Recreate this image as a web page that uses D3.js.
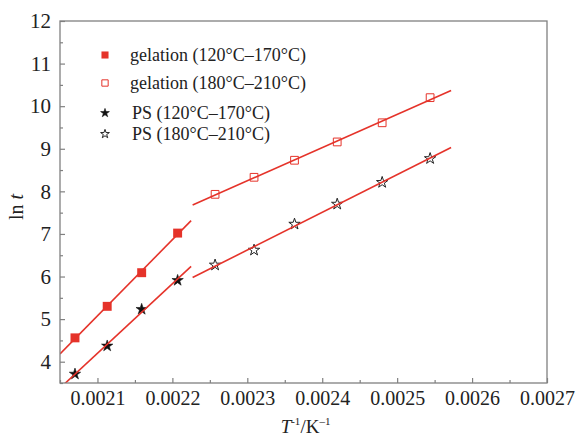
<!DOCTYPE html>
<html>
<head>
<meta charset="utf-8">
<script src="https://cdn.jsdelivr.net/npm/d3@7"></script>
<style>
  body { margin: 0; background: #fff; }
  svg { font-family: "Liberation Serif", "DejaVu Serif", serif; }
</style>
</head>
<body>
<svg id="chart" width="582" height="437"></svg>
<script>
// values
const xLeft = [0.002070, 0.002113, 0.002159, 0.002207];
const xRight = [0.002257, 0.002309, 0.002363, 0.002420, 0.002480, 0.002544];
const gelFilled = [4.56, 5.30, 6.09, 7.02];
const gelOpen = [7.93, 8.33, 8.73, 9.16, 9.61, 10.20];
const psFilled = [3.71, 4.37, 5.23, 5.91];
const psOpen = [6.27, 6.62, 7.23, 7.70, 8.21, 8.77];
// x extent of each fitted line
const fitLeftRange = [0.00205, 0.002225];
const fitRightRange = [0.002227, 0.002572];
const xTicks = [0.0021, 0.0022, 0.0023, 0.0024, 0.0025, 0.0026, 0.0027];
const yTicks = [4, 5, 6, 7, 8, 9, 10, 11, 12];
const legendLabels = ["gelation (120°C–170°C)", "gelation (180°C–210°C)", "PS (120°C–170°C)", "PS (180°C–210°C)"];

const red = "#e5332a";
const axisColor = "#808080";

const svg = d3.select("#chart");
const margin = { left: 60, right: 35, top: 21, bottom: 54 };
const W = 582, H = 437;

const x = d3.scaleLinear().domain([0.00205, 0.0027]).range([margin.left, W - margin.right]);
const y = d3.scaleLinear().domain([3.5, 12]).range([H - margin.bottom, margin.top]);

const series = [
	{ xs: xLeft, ys: gelFilled, kind: "sqFill" },
	{ xs: xRight, ys: gelOpen, kind: "sqOpen" },
	{ xs: xLeft, ys: psFilled, kind: "starFill" },
	{ xs: xRight, ys: psOpen, kind: "starOpen" }
];

function fit(xs, ys) {
	const mx = d3.mean(xs), my = d3.mean(ys);
	let sxy = 0, sxx = 0;
	xs.forEach((v, i) => { sxy += (v - mx) * (ys[i] - my); sxx += (v - mx) * (v - mx); });
	const b = sxy / sxx;
	return v => my + b * (v - mx);
}

function marker(sel, kind, small) {
	const sq = small ? 50 : 80;
	const st = small ? 24 : 40;
	if (kind === "sqFill") {
		sel.attr("d", d3.symbol(d3.symbolSquare, sq)).attr("fill", red).attr("stroke", "none");
	} else if (kind === "sqOpen") {
		sel.attr("d", d3.symbol(d3.symbolSquare, small ? 40 : 60)).attr("fill", "none").attr("stroke", red).attr("stroke-width", 1);
	} else if (kind === "starFill") {
		sel.attr("d", d3.symbol(d3.symbolStar, st)).attr("fill", "#111").attr("stroke", "#111").attr("stroke-width", 0.6);
	} else {
		sel.attr("d", d3.symbol(d3.symbolStar, st)).attr("fill", "#fff").attr("stroke", "#222").attr("stroke-width", 1);
	}
}

// clip for plot
svg.append("clipPath").attr("id", "clip")
	.append("rect")
	.attr("x", margin.left).attr("y", margin.top)
	.attr("width", W - margin.left - margin.right)
	.attr("height", H - margin.top - margin.bottom);

// markers
series.forEach(s => {
	svg.append("g")
		.selectAll("path")
		.data(s.xs.map((v, i) => [v, s.ys[i]]))
		.join("path")
		.attr("transform", d => `translate(${x(d[0])},${y(d[1])})`)
		.call(marker, s.kind, false);
});

// fitted lines
const lineGen = d3.line().x(d => x(d[0])).y(d => y(d[1]));
series.forEach(s => {
	const f = fit(s.xs, s.ys);
	const r = s.xs === xLeft ? fitLeftRange : fitRightRange;
	svg.append("path")
		.attr("clip-path", "url(#clip)")
		.attr("d", lineGen(r.map(v => [v, f(v)])))
		.attr("fill", "none")
		.attr("stroke", red)
		.attr("stroke-width", 1.6);
});

// frame
svg.append("rect")
	.attr("x", margin.left).attr("y", margin.top)
	.attr("width", W - margin.left - margin.right)
	.attr("height", H - margin.top - margin.bottom)
	.attr("fill", "none")
	.attr("stroke", axisColor)
	.attr("stroke-width", 1.3);

// axes
const xMinor = d3.range(0.00205, 0.0027, 0.0001).map(v => +(v.toFixed(5)));
const yMinor = d3.range(3.5, 12, 1);

const xAxis = svg.append("g")
	.attr("transform", `translate(0,${H - margin.bottom})`)
	.call(d3.axisBottom(x).tickValues(xTicks).tickFormat(d3.format(".4f")).tickSize(-5).tickPadding(8));
svg.append("g")
	.attr("transform", `translate(0,${H - margin.bottom})`)
	.call(d3.axisBottom(x).tickValues(xMinor).tickFormat("").tickSize(-3));

const yAxis = svg.append("g")
	.attr("transform", `translate(${margin.left},0)`)
	.call(d3.axisLeft(y).tickValues(yTicks).tickSize(-5).tickPadding(9));
svg.append("g")
	.attr("transform", `translate(${margin.left},0)`)
	.call(d3.axisLeft(y).tickValues(yMinor).tickFormat("").tickSize(-3));

svg.selectAll(".domain").remove();
svg.selectAll(".tick line").attr("stroke", axisColor).attr("stroke-width", 1.2);
xAxis.selectAll("text").attr("font-size", 20).attr("fill", "#222").attr("font-family", "Liberation Serif");
yAxis.selectAll("text").attr("font-size", 21).attr("fill", "#222").attr("font-family", "Liberation Serif");

// axis titles
const xt = svg.append("text")
	.attr("x", (margin.left + W - margin.right) / 2 + 2)
	.attr("y", 433)
	.attr("text-anchor", "middle")
	.attr("font-size", 19)
	.attr("fill", "#222");
xt.append("tspan").attr("font-style", "italic").text("T");
xt.append("tspan").attr("font-size", 11).attr("dy", -8).text("-1");
xt.append("tspan").attr("dy", 8).text("/K");
xt.append("tspan").attr("font-size", 11).attr("dy", -8).text("–1");

const yt = svg.append("text")
	.attr("transform", "translate(23,207) rotate(-90)")
	.attr("text-anchor", "middle")
	.attr("font-size", 20)
	.attr("fill", "#222");
yt.append("tspan").text("ln ");
yt.append("tspan").attr("font-style", "italic").text("t");

// legend
const legRows = [55, 83, 113, 134];
const legend = svg.append("g");
series.forEach((s, i) => {
	legend.append("path")
		.attr("transform", `translate(105,${legRows[i]})`)
		.call(marker, s.kind, true);
	legend.append("text")
		.attr("x", i < 2 ? 130 : 132)
		.attr("y", legRows[i] + 6)
		.attr("font-size", 18)
		.attr("fill", "#222")
		.text(legendLabels[i]);
});
</script>
</body>
</html>
